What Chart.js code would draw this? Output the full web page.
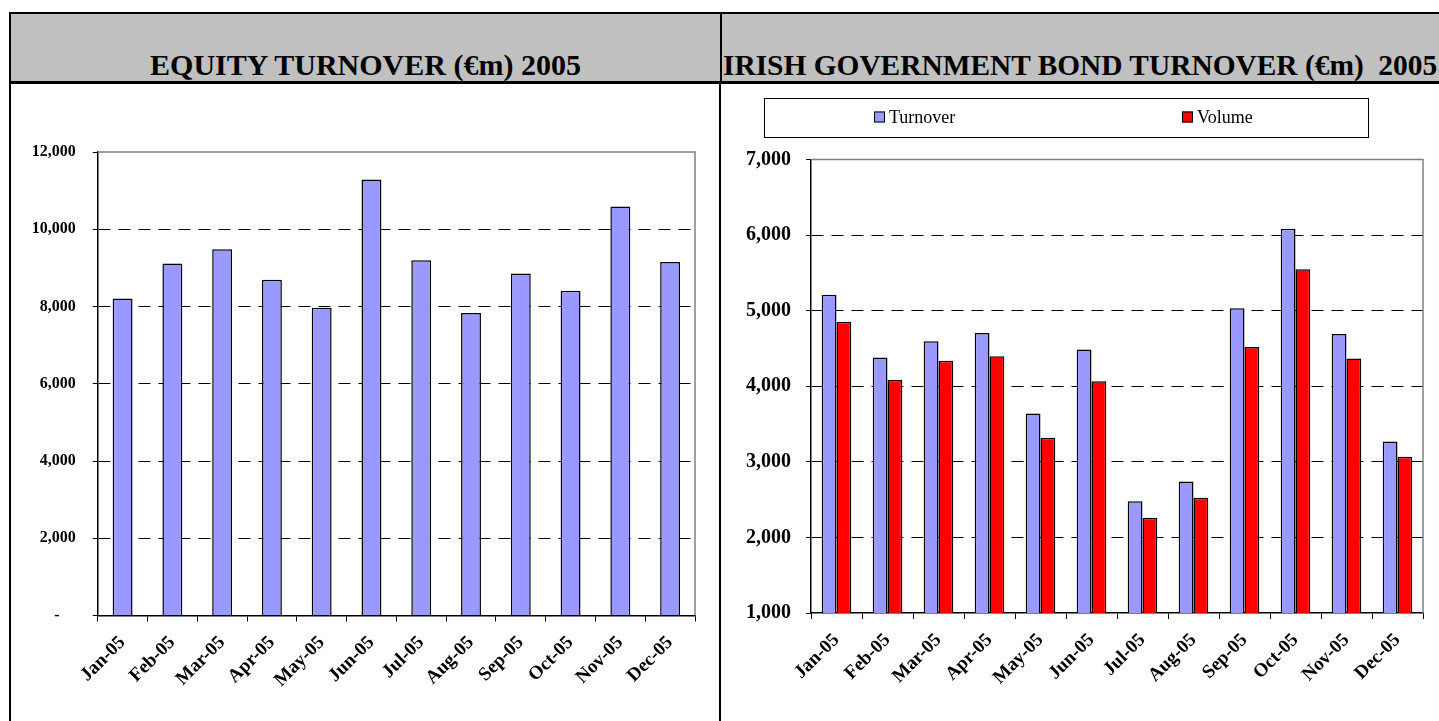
<!DOCTYPE html>
<html lang="en">
<head>
<meta charset="UTF-8">
<title>Equity / Bond Turnover 2005</title>
<script src="https://cdn.jsdelivr.net/npm/chart.js@4.4.0/dist/chart.umd.min.js"></script>
<style>
    body { margin: 0; background: #fff; width: 1439px; height: 721px; overflow: hidden; position: relative;
           font-family: 'Liberation Serif', 'Times New Roman', serif; }
    .header { position: absolute; left: 9px; top: 12px; width: 1450px; height: 67px; background: #c0c0c0;
              border-top: 2px solid #000; border-left: 2px solid #000; border-bottom: 3px solid #000; }
    .divTop { position: absolute; left: 720px; top: 12px; width: 2px; height: 72px; background: #000; }
    .divBody { position: absolute; left: 719px; top: 84px; width: 2px; height: 640px; background: #000; }
    .leftEdge { position: absolute; left: 9px; top: 84px; width: 2px; height: 640px; background: #000; }
    .title { position: absolute; top: 49px; line-height: 32px; font-weight: bold; white-space: pre; color: #000; }
    #t1 { left: 11px; width: 709px; text-align: center; font-size: 30px; }
    #t2 { left: 723px; font-size: 29.4px; }
    canvas { position: absolute; }
    #equityChart { left: 11px; top: 84px; }
    #bondChart { left: 722px; top: 84px; }
</style>
</head>
<body>
    <div class="header"></div>
    <div class="divTop"></div>
    <div class="divBody"></div>
    <div class="leftEdge"></div>
    <div class="title" id="t1">EQUITY TURNOVER (€m) 2005</div>
    <div class="title" id="t2">IRISH GOVERNMENT BOND TURNOVER (€m)  2005</div>
    <canvas id="equityChart" width="708" height="637"></canvas>
    <canvas id="bondChart" width="717" height="637"></canvas>
<script>
    const months = ['Jan-05', 'Feb-05', 'Mar-05', 'Apr-05', 'May-05', 'Jun-05',
                    'Jul-05', 'Aug-05', 'Sep-05', 'Oct-05', 'Nov-05', 'Dec-05'];

    // equity turnover, EUR m
    const equityTurnover = [8210, 9115, 9485, 8690, 7965, 11285, 9200, 7830, 8855, 8410, 10590, 9150];

    // irish government bonds
    const bondTurnover = [5212, 4380, 4597, 4703, 3640, 4487, 2480, 2740, 5031, 6084, 4690, 3269];
    const bondVolume   = [4854, 4084, 4339, 4396, 3317, 4066, 2260, 2524, 4518, 5549, 4366, 3066];

    const equityAxis = [0, 12000, 2000];   // min, max, step
    const bondAxis = [1000, 7000, 1000];

    const serif = "'Liberation Serif', 'Times New Roman', serif";
    Chart.defaults.font.family = serif;
    Chart.defaults.color = '#000';

    function thousands(v) {
        if (v === 0) return '-    ';
        return String(v).replace(/\B(?=(\d{3})+(?!\d))/g, ',');
    }

    // gray top/right edges of the plot area
    const plotFrame = {
        id: 'plotFrame',
        beforeDatasetsDraw(chart) {
            const { ctx, chartArea: a } = chart;
            ctx.save();
            ctx.strokeStyle = '#808080';
            ctx.lineWidth = 1.5;
            ctx.beginPath();
            ctx.moveTo(a.left, a.top);
            ctx.lineTo(a.right, a.top);
            ctx.lineTo(a.right, a.bottom);
            ctx.stroke();
            ctx.restore();
        }
    };

    // boxed legend spread in two columns
    const boxLegend = {
        id: 'boxLegend',
        afterDraw(chart, args, opts) {
            if (!opts.box) return;
            const { ctx } = chart;
            const [x, y, w, h] = opts.box;
            ctx.save();
            ctx.strokeStyle = '#000';
            ctx.lineWidth = 1;
            ctx.strokeRect(x + 0.5, y + 0.5, w, h);
            ctx.font = '18px ' + serif;
            ctx.textBaseline = 'middle';
            const sets = chart.data.datasets;
            const col = w / sets.length;
            sets.forEach((ds, i) => {
                const tw = ctx.measureText(ds.label).width;
                const itemW = 12 + 3 + tw;
                const sx = Math.round(x + col * i + (col - itemW) / 2);
                const cy = y + h / 2;
                ctx.fillStyle = ds.backgroundColor;
                ctx.fillRect(sx, cy - 6, 11, 11);
                ctx.strokeStyle = '#000';
                ctx.strokeRect(sx + 0.5, cy - 5.5, 10, 10);
                ctx.fillStyle = '#000';
                ctx.fillText(ds.label, sx + 15, cy + 1);
            });
            ctx.restore();
        }
    };

    function makeChart(id, datasets, axis, geo) {
        const [min, max, step] = axis;
        return new Chart(document.getElementById(id), {
            type: 'bar',
            data: { labels: months, datasets: datasets },
            plugins: [plotFrame, boxLegend],
            options: {
                responsive: false,
                animation: false,
                devicePixelRatio: 1,
                layout: { padding: { top: geo.top, right: geo.right, left: 0, bottom: 0 } },
                plugins: {
                    legend: { display: false },
                    tooltip: { enabled: false },
                    boxLegend: { box: geo.legend }
                },
                datasets: { bar: { categoryPercentage: geo.catPct, barPercentage: 1 } },
                scales: {
                    x: {
                        grid: { drawOnChartArea: false, drawTicks: true, tickLength: 6, color: '#000', offset: true },
                        border: { color: '#000', width: 1.5 },
                        ticks: { minRotation: 45, maxRotation: 45, padding: geo.xPad,
                                 font: { size: geo.xFont, weight: 'bold' } },
                        afterFit: s => { s.height = geo.xHeight; }
                    },
                    y: {
                        min: min, max: max,
                        grid: {
                            color: c => (c.tick && (c.tick.value === max || c.tick.value === min)) ? 'rgba(0,0,0,0)' : '#000',
                            tickColor: '#000', tickLength: 5, lineWidth: 1
                        },
                        border: { color: '#000', width: 1.5, dash: [12, 8] },
                        ticks: { stepSize: step, padding: geo.yPad, callback: v => thousands(v),
                                 font: { size: geo.yFont, weight: 'bold' } },
                        afterFit: s => { s.width = geo.yWidth; }
                    }
                }
            }
        });
    }

    makeChart('equityChart', [
        { label: 'Turnover', data: equityTurnover, backgroundColor: '#9999FF', borderColor: '#000', borderWidth: 1.5 }
    ], equityAxis, { top: 68, right: 24, yWidth: 86.7, xHeight: 105.5, catPct: 0.4,
                     xPad: 10, yPad: 17, xFont: 19, yFont: 16, legend: null });

    makeChart('bondChart', [
        { label: 'Turnover', data: bondTurnover, backgroundColor: '#9999FF', borderColor: '#000', borderWidth: 1.5 },
        { label: 'Volume', data: bondVolume, backgroundColor: '#FF0000', borderColor: '#000', borderWidth: 1.5 }
    ], bondAxis, { top: 75.5, right: 16, yWidth: 89, xHeight: 108, catPct: 0.58,
                   xPad: 10, yPad: 15, xFont: 19, yFont: 20, legend: [42, 14, 604, 39] });
</script>
</body>
</html>
